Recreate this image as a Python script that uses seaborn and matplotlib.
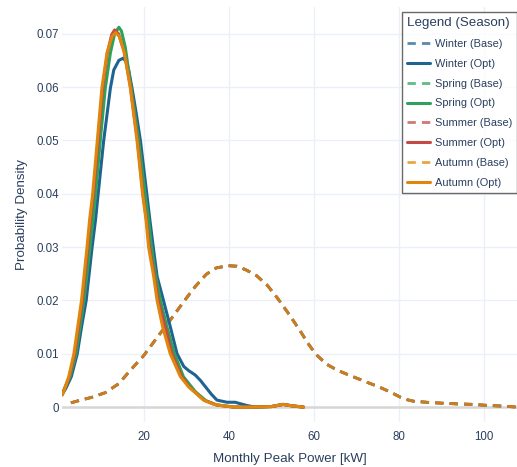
import matplotlib
matplotlib.use("Agg")
import matplotlib.pyplot as plt
import seaborn as sns

# seasons and colours
seasons = ["Winter", "Spring", "Summer", "Autumn"]
colors = ["#1f6391", "#2ca25a", "#c44a45", "#e0860c"]

# baseline density (same curve for every season, only autumn shows on top)
base_x = [2.7, 5.0, 7.5, 10.8, 14.0, 16.7, 19.8, 22.6, 26.1, 29.6, 32.0, 34.6,
          37.0, 39.8, 41.8, 44.0, 46.5, 49.0, 51.2, 54.0, 56.7, 58.5, 60.4,
          63.0, 65.5, 68.5, 72.0, 75.5, 78.0, 80.2, 81.8, 83.4, 86.5, 89.6,
          93.5, 97.5, 101.0, 103.8, 107.8]
base_y = [0.0008, 0.0013, 0.0018, 0.0027, 0.0044, 0.0069, 0.0096, 0.0126,
          0.0163, 0.0201, 0.0226, 0.0249, 0.0261, 0.0265, 0.0264, 0.0257,
          0.0246, 0.0228, 0.0206, 0.0175, 0.0143, 0.0120, 0.0099, 0.0080,
          0.0069, 0.0059, 0.0048, 0.0037, 0.0028, 0.0019, 0.0014, 0.0011,
          0.0009, 0.00075, 0.0006, 0.0005, 0.0003, 0.0002, 0.0]

# optimised densities
winter_x = [0.6, 1.5, 2.8, 4.2, 5.2, 6.3, 7.7, 8.5, 9.1, 10.4, 12.0, 12.8, 14.0,
            15.0, 15.7, 16.3, 17.1, 18.1, 19.1, 20.6, 21.3, 22.1, 23.0, 24.5,
            26.1, 27.7, 29.3, 30.5, 32.0, 33.2, 34.4, 35.8, 37.1, 39.5, 41.4,
            44.1, 46.0, 50.0, 52.7, 55.0, 57.5]
winter_y = [0.0023, 0.0035, 0.0057, 0.0100, 0.0150, 0.0200, 0.0300, 0.0351,
            0.0398, 0.0498, 0.0598, 0.0632, 0.0650, 0.0654, 0.0648, 0.0632,
            0.0598, 0.0550, 0.0498, 0.0398, 0.0351, 0.0300, 0.0245, 0.0200,
            0.0151, 0.0100, 0.0076, 0.0068, 0.0060, 0.0050, 0.0038, 0.0024,
            0.0013, 0.0009, 0.0009, 0.0003, 0.0, 0.0001, 0.0005, 0.0002, 0.0]

spring_x = [0.6, 2.5, 3.9, 5.8, 7.2, 7.9, 8.5, 9.6, 10.8, 12.0, 13.0, 14.0,
            14.6, 15.5, 16.9, 18.7, 20.2, 21.0, 21.7, 22.6, 23.8, 25.3, 27.1,
            29.2, 32.0, 34.5, 37.0, 41.0, 46.0, 50.0, 52.7, 55.0, 57.5]
spring_y = [0.0023, 0.0057, 0.0100, 0.0200, 0.0300, 0.0351, 0.0398, 0.0498,
            0.0598, 0.0664, 0.0700, 0.0712, 0.0705, 0.0675, 0.0598, 0.0498,
            0.0398, 0.0351, 0.0300, 0.0250, 0.0200, 0.0151, 0.0100, 0.0057,
            0.0029, 0.0012, 0.0004, 0.0, 0.0, 0.0001, 0.0005, 0.0002, 0.0]

summer_x = [0.6, 2.3, 3.6, 5.4, 6.7, 7.3, 8.0, 9.1, 10.2, 11.3, 12.3, 13.0,
            13.9, 15.2, 16.7, 18.4, 19.7, 20.5, 21.2, 22.4, 23.3, 24.9, 26.5,
            28.8, 30.8, 34.0, 37.0, 41.0, 46.0, 50.0, 52.7, 55.0, 57.5]
summer_y = [0.0023, 0.0057, 0.0100, 0.0200, 0.0300, 0.0351, 0.0398, 0.0498,
            0.0598, 0.0664, 0.0698, 0.0707, 0.0700, 0.0668, 0.0602, 0.0498,
            0.0398, 0.0351, 0.0300, 0.0245, 0.0200, 0.0151, 0.0100, 0.0057,
            0.0036, 0.0013, 0.0004, 0.0, 0.0, 0.0001, 0.0005, 0.0002, 0.0]

autumn_x = [0.6, 1.0, 2.2, 3.4, 4.3, 5.2, 6.5, 7.1, 7.8, 8.9, 10.0, 11.2, 12.4,
            13.2, 14.1, 15.3, 16.7, 18.3, 19.6, 20.4, 21.0, 22.2, 23.0, 24.3,
            26.1, 28.5, 30.4, 32.0, 34.0, 36.0, 38.0, 41.0, 46.0, 50.0, 52.7,
            55.0, 57.5]
autumn_y = [0.0023, 0.0029, 0.0057, 0.0100, 0.0150, 0.0200, 0.0300, 0.0351,
            0.0398, 0.0498, 0.0598, 0.0664, 0.0695, 0.0702, 0.0695, 0.0664,
            0.0598, 0.0498, 0.0398, 0.0351, 0.0300, 0.0245, 0.0200, 0.0151,
            0.0100, 0.0057, 0.0038, 0.0027, 0.0013, 0.0006, 0.0003, 0.0, 0.0,
            0.0001, 0.0005, 0.0002, 0.0]

opt_x = [winter_x, spring_x, summer_x, autumn_x]
opt_y = [winter_y, spring_y, summer_y, autumn_y]

x_ticks = [20, 40, 60, 80, 100]
y_ticks = [0, 0.01, 0.02, 0.03, 0.04, 0.05, 0.06, 0.07]
y_tick_labels = ["0", "0.01", "0.02", "0.03", "0.04", "0.05", "0.06", "0.07"]

sns.set_theme(style="white")
plt.rcParams["font.family"] = ["Liberation Sans", "DejaVu Sans"]
text_color = "#2a3f5f"

fig = plt.figure(figsize=(5.17, 4.67), dpi=100)
ax = fig.add_axes([62 / 517, 1 - 422 / 467, 1 - 62 / 517, 415 / 467])

# zero line first so the curves sit on top
ax.axhline(0, color="#d6d6d6", lw=1.8, zorder=1)

for name, c, xs, ys in zip(seasons, colors, opt_x, opt_y):
    sns.lineplot(x=base_x, y=base_y, ax=ax, color=c, lw=2.0, alpha=0.75,
                 linestyle=(0, (3.0, 2.2)), sort=False,
                 label=f"{name} (Base)", zorder=2)
    sns.lineplot(x=xs, y=ys, ax=ax, color=c, lw=2.2, sort=False,
                 label=f"{name} (Opt)", zorder=3)

ax.set_xlim(0.6, 107.8)
ax.set_ylim(-0.0028, 0.075)
ax.set_xticks(x_ticks)
ax.set_yticks(y_ticks)
ax.set_yticklabels(y_tick_labels)
ax.grid(True, color="#ebf0f8", lw=1)
ax.set_axisbelow(True)
for s in ax.spines.values():
    s.set_visible(False)
ax.tick_params(axis="both", length=0, labelsize=8.3, colors=text_color)
ax.tick_params(axis="x", pad=6.5)
ax.tick_params(axis="y", pad=2)

ax.set_xlabel("Monthly Peak Power [kW]", fontsize=9.6, color=text_color,
              labelpad=7)
ax.set_ylabel("Probability Density", fontsize=9.6, color=text_color,
              labelpad=6)

leg = ax.legend(loc="upper left", bbox_to_anchor=(0.747, 0.988),
                title="Legend (Season)", fontsize=7.9, title_fontsize=9.6,
                frameon=True, fancybox=False, handlelength=2.1,
                handletextpad=0.43, labelspacing=0.9, borderpad=0.45,
                borderaxespad=0, alignment="left")
leg.get_frame().set_edgecolor("#444444")
leg.get_frame().set_linewidth(1.0)
leg.get_title().set_color(text_color)
for t in leg.get_texts():
    t.set_color(text_color)

fig.savefig("out.png", dpi=100)
